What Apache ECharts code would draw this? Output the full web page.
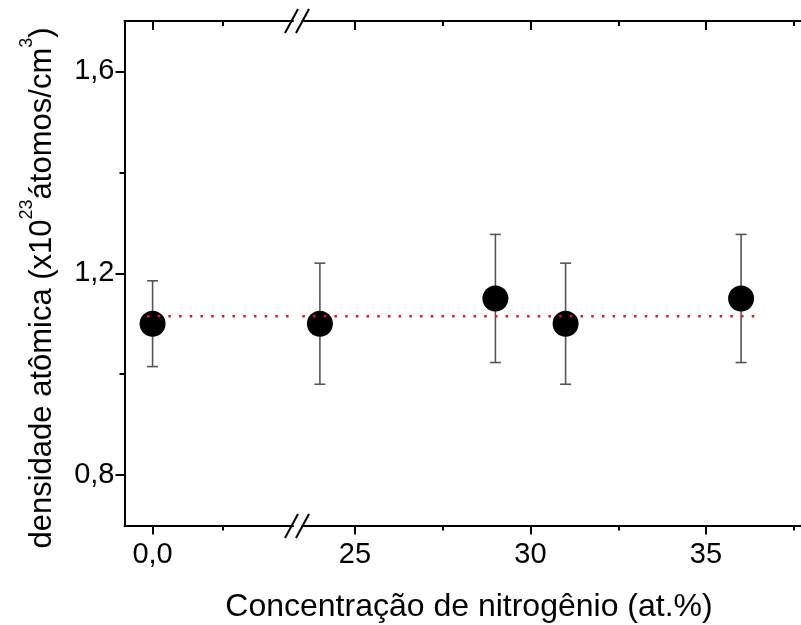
<!DOCTYPE html>
<html><head><meta charset="utf-8">
<script src="https://cdn.jsdelivr.net/npm/echarts@6/dist/echarts.min.js"></script>
<style>html,body{margin:0;padding:0;background:#fff}#c{width:801px;height:625px}</style>
</head><body><div id="c"></div>
<script>
// ---- data ----
const xValues = [0, 24, 29, 31, 36];
const density = [1.10, 1.10, 1.15, 1.10, 1.15];
const errors  = [0.085, 0.12, 0.127, 0.12, 0.127];
const fitY = 1.115;
const fitX = [-0.16, 36.4];
const leftRange = [-0.8, 4.0];
const rightRange = [23.5, 38];
const xMajorLeft = [0];
const xMinorLeft = [2];
const xMajorRight = [25, 30, 35];
const xMinorRight = [27.5, 32.5, 37.5];
const yRange = [0.7, 1.7];
const yMajor = [0.8, 1.2, 1.6];
const yMinor = [1.0, 1.4];
const xTitle = 'Concentração de nitrogênio (at.%)';

const FONT = 'Liberation Sans, Arial, sans-serif';
const LABEL_SIZE = 29;
const AX = '#000';

const gridLeft = {left: 124.5, top: 21, width: 168.5, height: 504.5, outerBoundsMode: 'none', containLabel: false};
const gridRight = {left: 302.35, top: 21, width: 508.95, height: 504.5, outerBoundsMode: 'none', containLabel: false};

function comma(v, d) { return v.toFixed(d).replace('.', ','); }

function xAxisDef(gridIndex, position, range, ticks, len, inside, labelVals, fmt, showLine) {
  return {
    type: 'value', gridIndex, position, min: range[0], max: range[1],
    axisLine: {show: showLine, onZero: false, lineStyle: {color: AX, width: 2}},
    axisTick: {show: true, inside, length: len, customValues: ticks, lineStyle: {color: AX, width: 2}},
    axisLabel: labelVals ? {show: true, customValues: labelVals, formatter: fmt, margin: 15,
      color: '#000', fontSize: LABEL_SIZE, fontFamily: FONT} : {show: false},
    splitLine: {show: false}
  };
}
function yAxisDef(gridIndex, position, ticks, len, inside, labelVals, showLine) {
  return {
    type: 'value', gridIndex, position, min: yRange[0], max: yRange[1],
    axisLine: {show: showLine, onZero: false, lineStyle: {color: AX, width: 2}},
    axisTick: {show: true, inside, length: len, customValues: ticks, lineStyle: {color: AX, width: 2}},
    axisLabel: labelVals ? {show: true, customValues: labelVals, formatter: v => comma(v, 1), margin: 10,
      color: '#000', fontSize: LABEL_SIZE, fontFamily: FONT} : {show: false},
    splitLine: {show: false}
  };
}

const pts = xValues.map((x, i) => [x, density[i], errors[i]]);
const ptsLeft = pts.filter(p => p[0] <= leftRange[1]);
const ptsRight = pts.filter(p => p[0] >= rightRange[0]);

function errRender(params, api) {
  const x = api.value(0), y = api.value(1), e = api.value(2);
  const t = api.coord([x, y + e]), b = api.coord([x, y - e]);
  const hw = 5.5;
  const st = {stroke: '#555', lineWidth: 1.6};
  return {type: 'group', children: [
    {type: 'line', shape: {x1: t[0], y1: t[1], x2: b[0], y2: b[1]}, style: st},
    {type: 'line', shape: {x1: t[0] - hw, y1: t[1], x2: t[0] + hw, y2: t[1]}, style: st},
    {type: 'line', shape: {x1: b[0] - hw, y1: b[1], x2: b[0] + hw, y2: b[1]}, style: st}
  ]};
}

function seriesFor(xi, yi, data, fitData) {
  return [
    {type: 'custom', xAxisIndex: xi, yAxisIndex: yi, data, renderItem: errRender, z: 2, silent: true, clip: false},
    {type: 'scatter', xAxisIndex: xi, yAxisIndex: yi, data: data.map(p => [p[0], p[1]]),
      symbol: 'circle', symbolSize: 26, itemStyle: {color: '#000', opacity: 1}, z: 3, silent: true, clip: false},
    {type: 'line', xAxisIndex: xi, yAxisIndex: yi, data: fitData, symbol: 'none', z: 4, silent: true,
      lineStyle: {color: '#e8141c', width: 2.5, type: [2.5, 8.2]}}
  ];
}

const slash = (x1, y1, x2, y2) => ({type: 'line', shape: {x1, y1, x2, y2}, style: {stroke: '#000', lineWidth: 2}, z: 100});

const option = {
  animation: false,
  backgroundColor: '#fff',
  grid: [
    Object.assign({}, gridLeft),
    Object.assign({}, gridRight),
    Object.assign({}, gridLeft),
    Object.assign({}, gridRight)
  ],
  xAxis: [
    xAxisDef(0, 'bottom', leftRange, xMajorLeft, 9, false, xMajorLeft, v => comma(v, 1), true),
    xAxisDef(0, 'top', leftRange, xMajorLeft, 9, true, null, null, true),
    xAxisDef(1, 'bottom', rightRange, xMajorRight, 9, false, xMajorRight, v => String(v), true),
    xAxisDef(1, 'top', rightRange, xMajorRight, 9, true, null, null, true),
    xAxisDef(2, 'bottom', leftRange, xMinorLeft, 5, false, null, null, false),
    xAxisDef(2, 'top', leftRange, xMinorLeft, 5, true, null, null, false),
    xAxisDef(3, 'bottom', rightRange, xMinorRight, 5, false, null, null, false),
    xAxisDef(3, 'top', rightRange, xMinorRight, 5, true, null, null, false)
  ],
  yAxis: [
    yAxisDef(0, 'left', yMajor, 9, false, yMajor, true),
    yAxisDef(1, 'right', yMajor, 9, true, null, true),
    yAxisDef(2, 'left', yMinor, 5, false, null, false),
    yAxisDef(3, 'right', yMinor, 5, true, null, false)
  ],
  series: [
    ...seriesFor(0, 0, ptsLeft, [[fitX[0], fitY], [leftRange[1], fitY]]),
    ...seriesFor(2, 1, ptsRight, [[rightRange[0], fitY], [fitX[1], fitY]])
  ],
  graphic: [
    slash(285, 538, 298, 514), slash(296, 538, 309, 514),
    slash(285, 33, 298, 9), slash(296, 33, 309, 9),
    {type: 'text', x: 469, y: 607, z: 100, style: {text: xTitle, fontSize: 32, fontFamily: FONT,
      fill: '#000', align: 'center', verticalAlign: 'middle'}},
    {type: 'text', x: 38, y: 288, rotation: Math.PI / 2, z: 100, style: {
      text: '{m|densidade atômica (x10}{s|23}{m|átomos/cm}{s|3}{m|)}',
      align: 'center', verticalAlign: 'middle', fill: '#000',
      rich: {
        m: {fontSize: 31, fontFamily: FONT, fill: '#000', lineHeight: 40, verticalAlign: 'bottom'},
        s: {fontSize: 18, fontFamily: FONT, fill: '#000', lineHeight: 40, verticalAlign: 'top'}
      }}}
  ]
};
const chart = echarts.init(document.getElementById('c'), null, {renderer: 'canvas'});
chart.setOption(option);
</script></body></html>
